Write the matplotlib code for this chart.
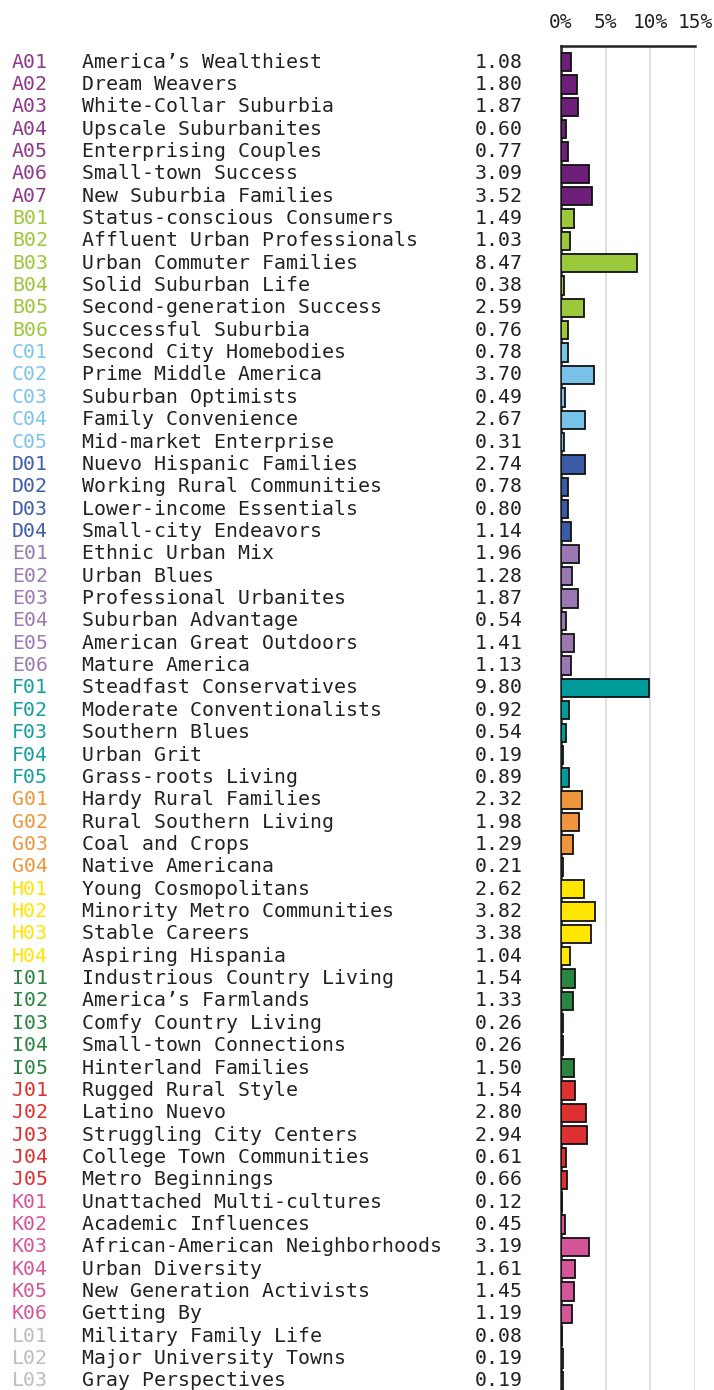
import matplotlib
matplotlib.use("Agg")
import matplotlib.pyplot as plt

codes = ["A01","A02","A03","A04","A05","A06","A07",
         "B01","B02","B03","B04","B05","B06",
         "C01","C02","C03","C04","C05",
         "D01","D02","D03","D04",
         "E01","E02","E03","E04","E05","E06",
         "F01","F02","F03","F04","F05",
         "G01","G02","G03","G04",
         "H01","H02","H03","H04",
         "I01","I02","I03","I04","I05",
         "J01","J02","J03","J04","J05",
         "K01","K02","K03","K04","K05","K06",
         "L01","L02","L03"]
names = ["America\u2019s Wealthiest","Dream Weavers","White-Collar Suburbia","Upscale Suburbanites",
         "Enterprising Couples","Small-town Success","New Suburbia Families",
         "Status-conscious Consumers","Affluent Urban Professionals","Urban Commuter Families",
         "Solid Suburban Life","Second-generation Success","Successful Suburbia",
         "Second City Homebodies","Prime Middle America","Suburban Optimists","Family Convenience",
         "Mid-market Enterprise",
         "Nuevo Hispanic Families","Working Rural Communities","Lower-income Essentials","Small-city Endeavors",
         "Ethnic Urban Mix","Urban Blues","Professional Urbanites","Suburban Advantage",
         "American Great Outdoors","Mature America",
         "Steadfast Conservatives","Moderate Conventionalists","Southern Blues","Urban Grit","Grass-roots Living",
         "Hardy Rural Families","Rural Southern Living","Coal and Crops","Native Americana",
         "Young Cosmopolitans","Minority Metro Communities","Stable Careers","Aspiring Hispania",
         "Industrious Country Living","America\u2019s Farmlands","Comfy Country Living",
         "Small-town Connections","Hinterland Families",
         "Rugged Rural Style","Latino Nuevo","Struggling City Centers","College Town Communities",
         "Metro Beginnings",
         "Unattached Multi-cultures","Academic Influences","African-American Neighborhoods",
         "Urban Diversity","New Generation Activists","Getting By",
         "Military Family Life","Major University Towns","Gray Perspectives"]
values = [1.08,1.80,1.87,0.60,0.77,3.09,3.52,
          1.49,1.03,8.47,0.38,2.59,0.76,
          0.78,3.70,0.49,2.67,0.31,
          2.74,0.78,0.80,1.14,
          1.96,1.28,1.87,0.54,1.41,1.13,
          9.80,0.92,0.54,0.19,0.89,
          2.32,1.98,1.29,0.21,
          2.62,3.82,3.38,1.04,
          1.54,1.33,0.26,0.26,1.50,
          1.54,2.80,2.94,0.61,0.66,
          0.12,0.45,3.19,1.61,1.45,1.19,
          0.08,0.19,0.19]
x_ticks = [0, 5, 10, 15]
x_tick_labels = ["0%", "5%", "10%", "15%"]

group_colors = {"A": "#6E1F7A", "B": "#9CC83B", "C": "#78C1E8", "D": "#3A5CA6",
                "E": "#9C78B3", "F": "#009B9B", "G": "#EE953D", "H": "#FFE500",
                "I": "#2A8540", "J": "#DE3030", "K": "#D45699", "L": "#C0C0C0"}
label_colors = {"A": "#8E3A8E", "B": "#9CC83B", "C": "#7DC4EA", "D": "#3F5FA8",
                "E": "#9C7BB5", "F": "#14A0A0", "G": "#EE953D", "H": "#FFE500",
                "I": "#2A8540", "J": "#DE3030", "K": "#D45699", "L": "#BDBDBD"}

W, H = 714, 1390
fig = plt.figure(figsize=(W/100, H/100), dpi=100)
x0, x1 = 561, 695
y_top, y_bot = 46, 1390
ax = fig.add_axes([x0/W, 1 - y_bot/H, (x1-x0)/W, (y_bot-y_top)/H])

row0, rowN = 62, 1381
n = len(codes)
step = (rowN - row0) / (n - 1)
ylim_top = -(row0 - y_top) / step
ylim_bot = (n - 1) + (y_bot - rowN) / step

ypos = list(range(n))
cols = [group_colors[c[0]] for c in codes]
ax.barh(ypos, values, height=0.82, color=cols, edgecolor="#111111", linewidth=1.3, zorder=3)
ax.set_ylim(ylim_bot, ylim_top)
ax.set_xlim(0, 15)

for t in x_ticks[1:]:
    ax.axvline(t, color="#DDDDDD", lw=1.3, zorder=1)

for s in ["right", "bottom"]:
    ax.spines[s].set_visible(False)
ax.spines["top"].set_linewidth(1.8)
ax.spines["left"].set_linewidth(1.8)
ax.spines["top"].set_color("#222222")
ax.spines["left"].set_color("#222222")
ax.set_yticks([])
ax.xaxis.tick_top()
ax.set_xticks(x_ticks)
ax.set_xticklabels(x_tick_labels, fontfamily="DejaVu Sans Mono", fontsize=14, color="#222222")
ax.tick_params(axis="x", length=0, pad=10)

fs = 14.35
for i, (c, nm, v) in enumerate(zip(codes, names, values)):
    yf = 1 - (row0 + i*step) / H
    fig.text(12/W, yf, c, ha="left", va="center", fontsize=fs, fontfamily="DejaVu Sans Mono",
             color=label_colors[c[0]])
    fig.text(82/W, yf, nm, ha="left", va="center", fontsize=fs, fontfamily="DejaVu Sans Mono",
             color="#222222")
    fig.text(523/W, yf, f"{v:.2f}", ha="right", va="center", fontsize=fs,
             fontfamily="DejaVu Sans Mono", color="#222222")

fig.savefig("out.png", dpi=100)
